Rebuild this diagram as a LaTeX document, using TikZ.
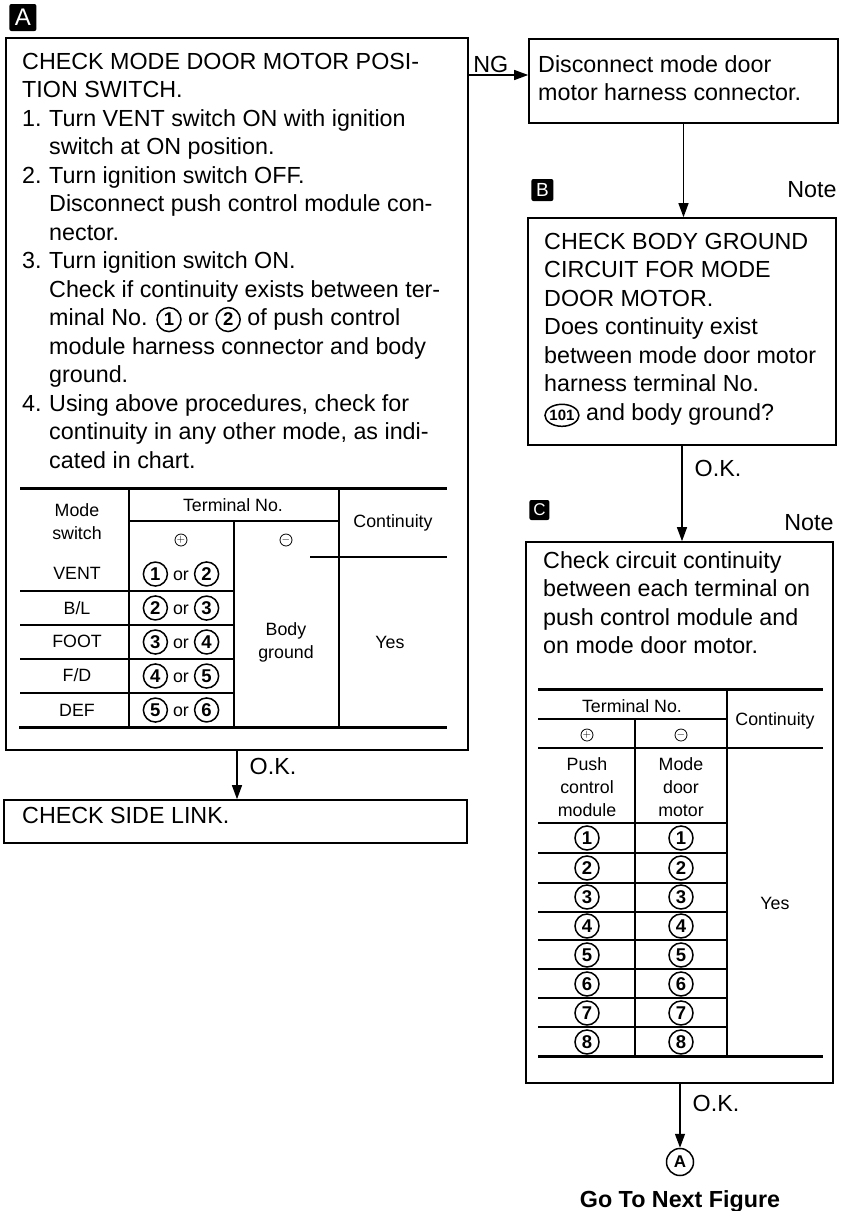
\documentclass[tikz,border=0pt]{standalone}
\usepackage{fontspec}
\setmainfont{Liberation Sans}
\usetikzlibrary{arrows.meta, fit, positioning, shapes.geometric}

% circled terminal numbers
\newcommand{\cnum}[1]{\tikz[baseline=(cn.base)]\node[circle, draw, line width=1.5pt, inner sep=0pt, minimum size=24pt, font=\bfseries\fontsize{18.5}{18.5}\selectfont] (cn) {#1};}
\newcommand{\cnumw}[1]{\tikz[baseline=(cn.base)]\node[ellipse, draw, line width=1.5pt, inner sep=-0.5pt, minimum height=22pt, font=\bfseries\fontsize{15}{15}\selectfont] (cn) {#1};}
\newcommand{\itm}[1]{\makebox[27pt][l]{#1}}

\begin{document}
\begin{tikzpicture}[
        x=1pt, y=-1pt,
        font=\fontsize{23.3}{28.5}\selectfont,
        box/.style={draw=black, line width=1.6pt, inner sep=0pt},
        txt/.style={anchor=north west, inner sep=0pt, align=left},
        tag/.style={fill=black, text=white, rounded corners=2pt, inner sep=0pt},
        cell/.style={inner sep=0pt, align=center, font=\fontsize{17.8}{23}\selectfont},
        sign/.style={circle, draw, line width=0.8pt, inner sep=0pt, minimum size=12pt, font=\fontsize{11}{11}\selectfont},
        thin/.style={line width=1.2pt},
        rule/.style={line width=3pt},
        arrow/.style={-{Triangle[length=14pt, width=10pt]}, line width=1.3pt},
        lbl/.style={inner sep=3pt},
        oklbl/.style={right, inner sep=0pt, xshift=12pt},
    ]
    \useasboundingbox (0,0) rectangle (846,1211);

    % A: position switch check
    \node[box, fit={(6,38) (468,750)}] (boxA) {};
    \node[tag, minimum width=27pt, minimum height=27pt, font=\fontsize{24}{24}\selectfont,
          above right=6pt and 4pt of boxA.north west, anchor=south west] (tagA) {A};
    \node[txt] (textA) at (22,53) {CHECK MODE DOOR MOTOR POSI-\\
        TION SWITCH.\\
        \itm{1.}Turn VENT switch ON with ignition\\
        \itm{}switch at ON position.\\
        \itm{2.}Turn ignition switch OFF.\\
        \itm{}Disconnect push control module con-\\
        \itm{}nector.\\
        \itm{3.}Turn ignition switch ON.\\
        \itm{}Check if continuity exists between ter-\\
        \itm{}minal No. \cnum{1} or \cnum{2} of push control\\
        \itm{}module harness connector and body\\
        \itm{}ground.\\
        \itm{4.}Using above procedures, check for\\
        \itm{}continuity in any other mode, as indi-\\
        \itm{}cated in chart.};

    % chart of box A
    \draw[rule] (20,488) -- (447,488);
    \draw[rule] (19,727) -- (447,727);
    \draw[thin] (129,488) -- (129,727) (339,488) -- (339,727) (234,521) -- (234,727);
    \draw[thin] (129,521) -- (339,521) (310,557) -- (447,557);
    \draw[thin] (20,591) -- (234,591) (20,625) -- (234,625) (20,659) -- (234,659) (20,693) -- (234,693);
    \node[cell] (modeHd) at (77,522) {Mode\\switch};
    \node[cell] (termHd) at (233,505) {Terminal No.};
    \node[cell] (contHd) at (393,523) {Continuity};
    \node[sign] (plusA) at (181,540) {$+$};
    \node[sign] (minusA) at (286,540) {$-$};
    \node[cell] (vent) at (77,573) {VENT};
    \node[cell] (bl) at (77,608) {B/L};
    \node[cell] (foot) at (77,641) {FOOT};
    \node[cell] (fd) at (77,675) {F/D};
    \node[cell] (def) at (77,710) {DEF};
    \node[cell] (ventT) at (181,574) {\cnum{1} or \cnum{2}};
    \node[cell] (blT) at (181,608) {\cnum{2} or \cnum{3}};
    \node[cell] (footT) at (181,642) {\cnum{3} or \cnum{4}};
    \node[cell] (fdT) at (181,676) {\cnum{4} or \cnum{5}};
    \node[cell] (defT) at (181,710) {\cnum{5} or \cnum{6}};
    \node[cell] (gndA) at (286,642) {Body\\ground};
    \node[cell] (yesA) at (390,642) {Yes};

    % O.K. -> side link
    \node[box, fit={(4,800) (467,843)}] (boxS) {};
    \node[txt, anchor=west] (textS) at (22,815) {CHECK SIDE LINK.};
    \draw[arrow] (boxA.south) -- node[oklbl, pos=0.33] {O.K.} (boxA.south |- boxS.north);

    % NG -> disconnect
    \node[box, fit={(529,39) (838,123)}] (boxN) {};
    \node[txt] (textN) at (538,55) {Disconnect mode door\\motor harness connector.};
    \coordinate (ngEnd) at ([yshift=6pt]boxN.west);
    \draw[arrow] (boxA.east |- ngEnd) -- node[lbl, above, pos=0.37, inner sep=2pt] {NG} (ngEnd);

    % B: body ground circuit
    \node[box, fit={(528,218) (836,445)}] (boxB) {};
    \node[tag, minimum width=22pt, minimum height=22pt, font=\fontsize{19}{19}\selectfont,
          above right=16pt and 4pt of boxB.north west, anchor=south west] (tagB) {B};
    \node[inner sep=0pt, above left=19pt and 0pt of boxB.north east, anchor=south east] (noteB) {Note};
    \node[txt] (textB) at (544,233) {CHECK BODY GROUND\\
        CIRCUIT FOR MODE\\
        DOOR MOTOR.\\
        Does continuity exist\\
        between mode door motor\\
        harness terminal No.\\
        \cnumw{101} and body ground?};
    \draw[arrow] (boxN.south) -- (boxN.south |- boxB.north);

    % C: circuit continuity
    \node[box, fit={(526,542) (833,1083)}] (boxC) {};
    \node[tag, minimum width=20pt, minimum height=20pt, font=\fontsize{17}{17}\selectfont,
          above right=21pt and 4pt of boxC.north west, anchor=south west] (tagC) {C};
    \node[inner sep=0pt, above left=10pt and 0pt of boxC.north east, anchor=south east] (noteC) {Note};
    \node[txt] (textC) at (543,551) {Check circuit continuity\\
        between each terminal on\\
        push control module and\\
        on mode door motor.};
    \draw[arrow] (boxB.south) -- node[oklbl, pos=0.24] {O.K.} (boxB.south |- boxC.north);

    % chart of box C
    \draw[rule] (538,689) -- (823,689);
    \draw[rule] (538,1056) -- (823,1056);
    \draw[thin] (635,719) -- (635,1056) (727,689) -- (727,1056);
    \draw[thin] (538,719) -- (727,719) (538,748) -- (823,748) (538,823) -- (727,823);
    \draw[thin] (538,853) -- (727,853) (538,883) -- (727,883) (538,912) -- (727,912)
        (538,940) -- (727,940) (538,969) -- (727,969) (538,998) -- (727,998) (538,1027) -- (727,1027);
    \node[cell] (termHdC) at (632,706) {Terminal No.};
    \node[cell] (contHdC) at (775,721) {Continuity};
    \node[sign] (plusC) at (587,735) {$+$};
    \node[sign] (minusC) at (681,735) {$-$};
    \node[cell] (pushC) at (587,787) {Push\\control\\module};
    \node[cell] (motorC) at (681,787) {Mode\\door\\motor};
    \node[cell] (p1) at (587,838) {\cnum{1}};    \node[cell] (m1) at (681,838) {\cnum{1}};
    \node[cell] (p2) at (587,868) {\cnum{2}};    \node[cell] (m2) at (681,868) {\cnum{2}};
    \node[cell] (p3) at (587,897) {\cnum{3}};    \node[cell] (m3) at (681,897) {\cnum{3}};
    \node[cell] (p4) at (587,926) {\cnum{4}};    \node[cell] (m4) at (681,926) {\cnum{4}};
    \node[cell] (p5) at (587,955) {\cnum{5}};    \node[cell] (m5) at (681,955) {\cnum{5}};
    \node[cell] (p6) at (587,984) {\cnum{6}};    \node[cell] (m6) at (681,984) {\cnum{6}};
    \node[cell] (p7) at (587,1013) {\cnum{7}};   \node[cell] (m7) at (681,1013) {\cnum{7}};
    \node[cell] (p8) at (587,1042) {\cnum{8}};   \node[cell] (m8) at (681,1042) {\cnum{8}};
    \node[cell] (yesC) at (775,903) {Yes};

    % O.K. -> next figure
    \node[circle, draw, line width=1.5pt, minimum size=27pt, inner sep=0pt,
          font=\bfseries\fontsize{17}{17}\selectfont] (circA) at (680,1162) {A};
    \node[inner sep=0pt, below=14pt of circA, font=\bfseries\fontsize{23.3}{28}\selectfont] (nextFig) {Go To Next Figure};
    \draw[arrow] (circA |- boxC.south) -- node[oklbl, pos=0.3] {O.K.} (circA.north);

\end{tikzpicture}
\end{document}
